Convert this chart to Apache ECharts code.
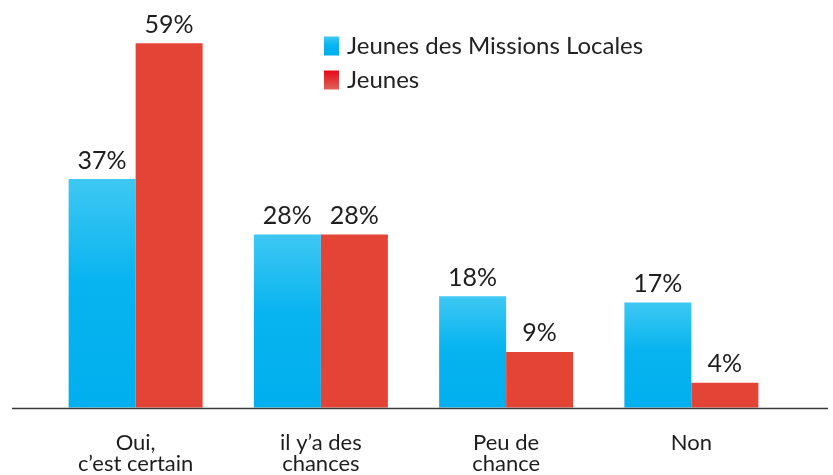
<!DOCTYPE html>
<html>
<head>
<meta charset="utf-8">
<script src="https://cdn.jsdelivr.net/npm/echarts@6/dist/echarts.min.js"></script>
<style>
  html, body { margin: 0; padding: 0; background: #fff; }
</style>
</head>
<body>
<div id="chart" style="width: 833px; height: 475px;"></div>
<script>
// catégories et valeurs (%)
var categories = ['Oui,\nc\u2019est certain', 'il y\u2019a des\nchances', 'Peu de\nchance', 'Non']
var missionsLocales = [37, 28, 18, 17] // Jeunes des Missions Locales
var jeunes = [59, 28, 9, 4] // Jeunes

var myChart = echarts.init(document.getElementById('chart'))

var labelStyle = {
  show: true,
  position: 'top',
  distance: 6,
  formatter: '{c}%',
  color: '#1e1e1e',
  fontSize: 25,
  fontFamily: 'Lato'
}

var option = {
  animation: false,
  textStyle: { fontFamily: 'Lato' },
  legend: {
    orient: 'vertical',
    left: 319,
    top: 29,
    itemWidth: 15,
    itemHeight: 19,
    itemGap: 10,
    icon: 'rect',
    textStyle: {
      fontSize: 24,
      lineHeight: 24,
      color: '#222',
      padding: [0, 0, 0, 3]
    },
    data: [
      { name: 'Jeunes des Missions Locales' },
      {
        name: 'Jeunes',
        itemStyle: {
          color: new echarts.graphic.LinearGradient(0, 0, 0, 1, [
            { offset: 0, color: '#e30a17' },
            { offset: 1, color: '#e0625a' }
          ])
        }
      }
    ]
  },
  grid: {
    top: 37,
    left: 43,
    right: 49,
    bottom: 67,
    containLabel: false
  },
  xAxis: {
    type: 'category',
    data: categories,
    axisLine: { show: false },
    axisTick: { show: false },
    axisLabel: {
      margin: 25,
      fontSize: 22,
      lineHeight: 21,
      color: '#1e1e1e',
      fontFamily: 'Lato'
    }
  },
  yAxis: {
    type: 'value',
    min: 0,
    max: 60,
    show: false,
    splitLine: { show: false }
  },
  // ligne de base, plus large que la grille
  graphic: [
    {
      type: 'line',
      shape: { x1: 12, y1: 408.5, x2: 828, y2: 408.5 },
      style: { stroke: '#3a3a3a', lineWidth: 1.5 },
      z: 10
    }
  ],
  series: [
    {
      name: 'Jeunes des Missions Locales',
      type: 'bar',
      data: missionsLocales,
      barWidth: 67,
      barGap: '0%',
      itemStyle: {
        color: new echarts.graphic.LinearGradient(0, 0, 0, 1, [
          { offset: 0, color: '#3ec8f3' },
          { offset: 0.45, color: '#08b4ef' },
          { offset: 1, color: '#00afee' }
        ])
      },
      label: labelStyle
    },
    {
      name: 'Jeunes',
      type: 'bar',
      data: jeunes,
      barWidth: 67,
      barGap: '0%',
      itemStyle: {
        color: '#e44436'
      },
      label: labelStyle
    }
  ]
}

option && myChart.setOption(option)
</script>
</body>
</html>
